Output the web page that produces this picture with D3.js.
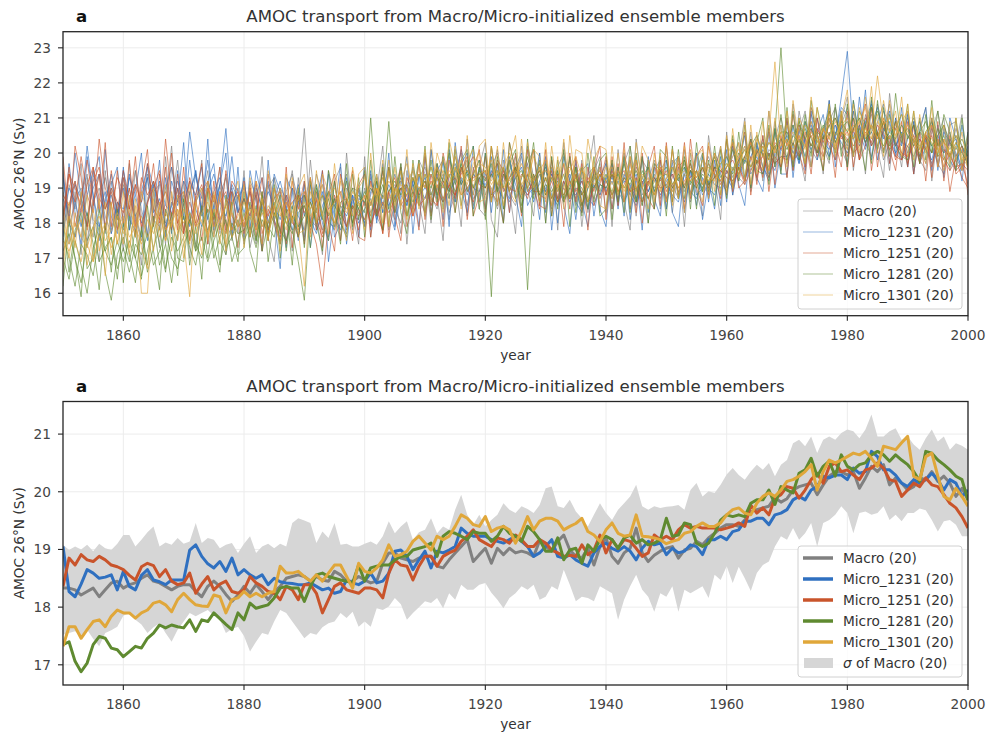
<!DOCTYPE html>
<html>
<head>
<meta charset="utf-8">
<script src="https://cdn.jsdelivr.net/npm/d3@7"></script>
<style>
  body { margin: 0; background: #fff; }
  text { font-family: "DejaVu Sans", sans-serif; }
</style>
</head>
<body>
<svg id="chart" width="989" height="736"></svg>
<script>
// years on the x axis
const years = d3.range(1850, 2001);
const xTicks = [1860, 1880, 1900, 1920, 1940, 1960, 1980, 2000];
const yTicksTop = [16, 17, 18, 19, 20, 21, 22, 23];
const yTicksBottom = [17, 18, 19, 20, 21];

const groupNames = ['Macro (20)', 'Micro_1231 (20)', 'Micro_1251 (20)', 'Micro_1281 (20)', 'Micro_1301 (20)'];
const groupColors = ['#808080', '#2f70c0', '#c9542b', '#5f8a30', '#e0a73a'];

// ensemble means (bottom panel), 1850..2000
const macroMean = [
18.33,18.33,18.30,18.21,18.27,18.33,18.18,18.30,18.42,18.45,
18.33,18.39,18.42,18.50,18.56,18.45,18.42,18.36,18.30,18.36,
18.39,18.39,18.27,18.18,18.36,18.45,18.36,18.22,18.10,18.21,
18.36,18.24,18.39,18.27,18.13,18.27,18.36,18.50,18.53,18.56,
18.53,18.45,18.53,18.47,18.45,18.62,18.56,18.45,18.45,18.53,
18.47,18.42,18.45,18.76,18.94,18.94,18.85,18.82,18.79,18.85,
18.88,18.88,18.71,18.68,18.82,18.94,19.05,19.17,18.79,18.91,
19.02,18.76,19.02,18.91,19.02,18.94,18.97,18.94,18.88,19.15,
19.05,18.97,19.14,19.25,18.99,18.88,18.85,19.02,18.73,19.05,
19.20,18.88,18.76,18.94,19.02,19.37,18.94,18.79,18.90,18.97,
19.02,19.05,18.85,18.99,19.02,19.14,19.08,19.20,19.28,19.37,
19.43,19.43,19.40,19.51,19.66,19.69,19.72,19.75,19.90,19.82,
19.88,20.03,20.09,20.12,20.15,19.95,20.12,20.27,20.35,20.35,
20.29,20.35,20.06,20.24,20.44,20.35,20.47,20.12,20.24,20.15,
20.03,20.09,20.24,20.21,20.35,20.18,20.27,20.15,19.92,20.06,
19.86];

const micro1231Mean = [
19.05,18.27,18.18,18.40,18.65,18.59,18.50,18.52,18.56,18.30,
18.62,18.36,18.30,18.55,18.65,18.47,18.44,18.39,18.47,18.47,
18.47,18.99,19.08,18.88,18.75,18.68,18.79,18.62,18.85,18.56,
18.65,18.56,18.50,18.56,18.39,18.50,18.44,18.42,18.41,18.39,
18.39,18.42,18.36,18.30,18.33,18.24,18.27,18.47,18.42,18.39,
18.45,18.59,18.42,18.45,18.59,18.97,18.99,18.88,18.65,18.82,
18.97,18.68,18.97,18.94,18.99,19.05,19.37,19.28,19.23,19.23,
19.23,19.17,19.14,19.11,19.17,19.23,19.14,19.05,18.88,18.94,
19.05,19.17,18.88,18.85,18.91,18.82,18.76,18.71,18.94,19.05,
19.11,19.02,18.97,19.05,18.97,18.82,19.02,19.14,19.08,19.11,
18.91,19.02,18.94,18.97,19.08,19.05,18.91,19.17,19.17,19.23,
19.17,19.31,19.34,19.49,19.49,19.54,19.54,19.43,19.60,19.63,
19.69,19.86,19.92,19.86,20.03,20.09,20.27,20.24,20.29,20.29,
20.21,20.41,20.32,20.35,20.70,20.61,20.38,20.38,20.29,20.15,
20.09,20.21,20.15,20.21,20.32,20.21,20.03,20.21,20.15,19.92,
20.03];

const micro1251Mean = [
18.36,18.85,18.73,18.91,18.82,18.79,18.88,18.82,18.73,18.70,
18.65,18.55,18.47,18.70,18.76,18.72,18.53,18.65,18.45,18.39,
18.42,18.59,18.24,18.40,18.53,18.30,18.40,18.45,18.27,18.24,
18.30,18.53,18.42,18.36,18.27,18.24,18.13,18.36,18.30,18.13,
18.39,18.39,18.24,17.90,18.13,18.36,18.42,18.30,18.27,18.24,
18.33,18.33,18.30,18.16,18.59,18.82,18.73,18.71,18.47,18.71,
18.88,18.88,18.71,18.88,18.94,18.99,19.14,19.23,19.34,19.17,
19.11,19.05,19.20,19.17,19.11,19.25,19.17,19.05,19.05,19.17,
19.11,18.99,18.94,18.88,18.90,18.88,19.08,18.91,18.99,19.25,
18.94,19.17,19.02,19.17,19.14,19.02,18.88,18.94,19.25,19.17,
19.23,19.17,19.34,19.43,19.37,19.40,19.37,19.37,19.37,19.34,
19.37,19.40,19.46,19.40,19.77,19.63,19.72,19.60,19.89,19.95,
20.09,20.06,19.89,20.03,20.21,20.32,20.15,20.44,20.50,20.35,
20.38,20.29,20.21,20.38,20.41,20.50,20.41,20.21,20.18,19.92,
20.03,20.15,20.09,20.24,20.12,20.09,19.95,19.80,19.72,19.57,
19.37];

const micro1281Mean = [
17.35,17.40,17.06,16.88,17.03,17.35,17.49,17.46,17.29,17.26,
17.14,17.23,17.32,17.29,17.46,17.55,17.69,17.64,17.69,17.66,
17.64,17.78,17.58,17.78,17.75,17.90,17.80,17.70,17.61,17.90,
17.78,18.07,17.98,18.01,18.04,18.16,18.33,18.36,18.33,18.33,
18.10,18.36,18.56,18.59,18.53,18.50,18.47,18.45,18.42,18.73,
18.45,18.68,18.71,18.73,18.73,18.82,18.88,18.88,18.99,19.02,
19.05,19.11,18.88,19.23,19.31,19.28,19.23,19.17,19.31,19.28,
19.28,19.14,19.23,19.40,19.28,19.23,19.14,19.40,19.31,19.17,
18.97,18.97,19.20,18.82,18.99,19.02,18.76,19.08,18.97,19.17,
19.23,19.17,19.02,19.20,19.25,19.11,19.17,19.08,19.11,19.17,
19.54,19.23,19.25,19.46,19.43,19.11,19.05,19.11,19.28,19.51,
19.60,19.57,19.60,19.57,19.80,19.86,19.86,20.03,19.78,20.09,
20.03,19.98,20.32,20.38,20.58,20.27,20.44,20.53,20.27,20.64,
20.44,20.38,20.47,20.50,20.64,20.70,20.64,20.53,20.64,20.55,
20.47,20.35,20.18,20.70,20.67,20.55,20.47,20.38,20.27,20.21,
19.85];

const micro1301Mean = [
17.32,17.66,17.66,17.46,17.61,17.75,17.78,17.66,17.84,17.95,
17.90,17.90,17.81,17.90,17.95,18.07,18.10,18.04,17.92,18.13,
18.24,18.13,18.04,18.02,18.01,18.21,18.18,17.90,18.13,18.16,
18.27,18.18,18.24,18.18,18.24,18.27,18.71,18.59,18.59,18.62,
18.53,18.45,18.56,18.45,18.59,18.73,18.73,18.53,18.33,18.76,
18.62,18.59,18.68,18.82,19.08,18.88,18.91,18.97,19.14,19.23,
19.11,18.99,19.23,19.17,19.23,19.40,19.60,19.54,19.43,19.40,
19.57,19.31,19.37,19.40,19.34,19.11,19.31,19.57,19.34,19.49,
19.54,19.54,19.49,19.34,19.40,19.45,19.54,19.31,19.25,19.14,
19.34,19.46,19.28,19.23,19.25,19.60,19.23,19.22,19.20,19.17,
19.10,19.14,19.17,19.28,19.31,19.40,19.46,19.40,19.40,19.46,
19.60,19.69,19.72,19.63,19.60,19.80,19.92,19.98,19.92,20.03,
20.18,20.21,20.27,20.35,20.47,20.03,20.35,20.55,20.50,20.55,
20.61,20.67,20.64,20.70,20.58,20.44,20.79,20.76,20.73,20.85,
20.96,20.27,20.21,20.61,20.67,20.27,19.92,19.86,20.06,19.92,
19.75];

// shaded sigma band of Macro, upper and lower edge
const sigmaUpper = [
19.08,18.99,19.05,19.00,19.08,18.97,19.10,19.02,18.99,19.10,
19.25,19.25,19.05,19.17,19.30,19.40,19.05,19.12,19.08,19.20,
19.10,19.14,19.46,19.11,19.20,19.17,19.02,19.08,19.11,18.94,
19.10,19.23,18.94,19.05,19.10,19.02,19.10,19.05,19.46,19.54,
19.50,19.46,19.11,19.31,19.20,19.46,19.08,19.10,19.05,19.05,
19.10,19.14,19.08,19.23,19.49,19.28,19.40,19.49,19.17,19.30,
19.34,19.54,19.28,19.40,19.34,19.69,19.95,19.60,19.43,19.60,
19.40,19.51,19.60,19.80,19.69,19.63,19.75,19.70,19.63,19.77,
20.06,20.09,19.75,19.72,19.86,19.66,19.54,19.40,19.60,19.80,
19.63,19.51,19.69,19.80,19.92,20.12,19.75,19.69,19.75,19.72,
19.74,19.75,19.77,19.69,20.03,20.15,19.92,20.01,19.98,20.12,
20.30,20.41,20.29,20.21,20.35,20.47,20.38,20.50,20.27,20.47,
20.55,20.84,20.90,20.79,20.96,20.67,20.90,20.96,20.90,21.02,
21.08,21.05,20.93,21.08,21.34,20.96,20.96,21.05,21.10,20.90,
20.96,20.82,20.73,20.93,21.08,20.87,20.96,20.73,20.84,20.80,
20.73];

const sigmaLower = [
17.52,17.55,17.58,17.50,17.61,17.45,17.32,17.55,17.60,17.66,
17.85,17.90,17.78,17.70,17.55,17.65,17.72,17.55,17.40,17.61,
17.75,17.90,17.84,17.90,17.95,17.85,17.78,17.55,17.62,17.66,
17.50,17.23,17.40,17.55,17.52,17.75,17.95,17.90,17.75,17.61,
17.46,17.55,17.52,17.65,17.72,17.75,17.90,17.81,17.92,17.66,
17.75,17.66,17.98,17.95,18.01,18.16,18.05,17.78,17.90,18.00,
18.10,18.07,18.16,17.98,18.24,18.13,18.39,18.30,18.30,18.39,
18.42,18.25,18.13,17.98,18.16,18.24,18.36,18.30,18.39,18.13,
18.18,18.36,18.30,18.65,18.39,18.10,18.18,18.16,18.10,18.36,
18.30,18.24,17.78,18.13,18.36,18.56,18.30,18.18,17.92,18.24,
18.18,18.36,17.92,18.30,18.24,18.30,18.36,18.16,18.56,18.47,
18.71,18.42,18.70,18.50,18.28,18.59,18.73,18.79,19.05,19.23,
19.17,19.37,19.17,19.28,19.46,19.05,19.46,19.51,19.60,19.75,
19.63,19.28,19.63,19.66,19.60,19.63,19.75,19.51,19.60,19.49,
19.63,19.63,19.71,19.68,19.51,19.31,19.49,19.51,19.43,19.23,
19.23];

// individual members (top panel), 1850..2000
const macroMembers = [
[18.9,18.2,17.6,18.8,19.4,18.1,17.9,18.7,19.2,18.3, 17.8,18.6,19.5,18.4,17.7,18.9,19.1,18.0,18.5,19.8,
 18.2,17.5,18.6,19.0,18.1,17.6,18.8,19.3,18.2,17.9, 18.7,18.0,17.4,18.5,19.1,18.3,17.8,18.9,19.4,18.6,
 20.7,18.1,17.9,18.8,18.4,19.2,18.0,17.7,18.6,19.0, 18.5,19.3,18.2,18.9,19.6,18.4,18.0,19.1,19.5,18.7,
 18.3,19.0,19.7,18.6,18.9,19.9,19.2,18.5,19.4,19.8, 18.8,19.3,20.1,19.0,18.6,19.5,19.9,18.9,19.2,19.7,
 19.1,18.5,19.6,20.0,19.2,18.7,19.3,18.4,19.5,19.9, 18.8,19.4,18.6,19.7,20.2,19.0,18.5,19.2,19.8,19.1,
 18.7,19.5,19.9,18.9,19.3,20.0,19.2,18.8,19.6,20.1, 19.4,19.9,20.3,19.2,19.8,20.5,20.0,19.6,20.4,21.0,
 20.2,19.7,20.6,21.2,20.1,19.8,20.7,21.0,20.3,20.8, 21.3,20.4,19.9,20.8,21.1,20.2,20.6,21.4,20.0,19.8,
 20.5,21.0,20.3,19.7,20.6,21.2,20.1,19.9,20.7,20.2, 19.6],
[17.8,18.5,19.2,18.0,17.5,18.6,19.0,18.2,17.7,18.4, 19.1,18.3,17.6,18.8,19.3,18.1,17.9,18.6,20.2,18.0,
 17.7,18.9,19.4,18.3,17.8,18.5,19.1,18.0,17.6,18.7, 19.0,18.4,18.8,17.9,18.2,19.3,18.6,17.5,18.1,18.9,
 18.3,17.8,18.7,19.1,18.0,17.9,18.8,19.4,18.2,18.1, 19.0,18.3,18.7,19.5,18.6,18.1,19.2,19.0,18.4,19.3,
 19.6,18.8,18.4,19.3,19.1,18.6,19.5,19.8,18.7,18.9, 19.4,18.7,19.0,19.6,18.8,18.5,19.3,19.7,18.9,19.1,
 19.5,19.0,18.6,19.2,19.8,18.9,18.4,19.4,19.6,18.8, 19.3,19.7,18.9,18.6,19.4,19.9,18.8,19.2,19.0,19.5,
 19.8,19.1,18.7,19.4,19.7,19.0,19.5,19.9,19.3,19.2, 19.9,19.3,19.7,20.2,19.5,20.0,20.4,19.8,20.6,20.1,
 19.9,20.5,20.8,20.2,20.0,20.7,20.4,20.9,21.3,20.5, 20.1,20.7,21.0,20.3,19.9,20.6,21.2,20.8,20.2,20.5,
 21.0,20.2,19.8,20.4,20.9,20.3,20.0,20.6,19.9,19.5, 20.1],
[18.4,17.9,18.6,19.0,18.2,17.6,18.8,19.3,18.5,17.8, 18.3,19.0,18.1,17.5,18.7,19.2,18.4,17.8,18.6,18.2,
 18.8,18.3,17.9,18.5,19.2,18.7,17.7,18.2,18.9,18.4, 17.9,18.6,19.1,18.3,17.8,18.5,19.0,18.7,18.2,17.6,
 18.6,19.3,18.4,17.8,18.9,18.5,18.2,19.0,18.7,18.3, 18.1,18.8,19.4,18.5,18.9,19.1,18.6,18.2,19.3,18.8,
 19.2,18.5,19.0,19.4,18.3,18.8,19.6,18.9,19.1,18.6, 19.3,19.0,18.4,19.2,19.5,18.7,19.0,19.4,18.8,19.6,
 18.9,19.4,19.1,18.6,19.3,19.7,18.8,19.2,18.7,19.4, 19.0,18.7,19.5,19.2,18.8,19.6,19.3,18.9,19.4,18.7,
 19.3,18.9,19.4,19.7,18.8,19.2,19.0,19.5,19.9,19.4, 19.0,19.6,19.2,19.8,20.3,19.7,19.4,20.1,19.9,20.4,
 20.6,20.0,19.8,20.4,20.9,20.2,19.9,20.5,20.8,20.1, 20.4,20.0,20.5,20.9,20.2,20.6,19.8,20.3,20.7,20.0,
 19.8,20.4,20.6,20.1,19.7,20.3,20.8,20.2,20.4,20.0, 20.3],
[19.6,17.4,18.9,17.1,19.3,18.0,16.9,19.5,17.8,18.6, 17.2,19.7,18.1,16.8,19.4,18.8,17.3,19.9,18.0,17.5,
 19.2,17.0,18.5,19.8,17.4,18.2,19.6,17.1,18.9,17.7, 19.5,17.3,18.1,19.9,17.6,16.9,19.0,18.4,17.2,19.3,
 17.6,19.8,18.2,17.1,19.5,18.7,17.5,20.0,18.3,17.4, 19.9,17.6,18.9,20.2,17.8,18.5,19.7,17.4,19.3,18.6,
 17.7,20.1,18.8,17.5,19.9,19.2,17.9,20.4,18.5,19.6, 20.3,18.1,17.6,19.8,18.9,17.7,20.2,19.0,18.2,20.0,
 18.0,19.9,17.8,20.3,18.7,19.6,17.9,19.4,20.5,18.3, 19.8,17.9,20.1,18.6,17.8,20.4,19.1,18.0,19.7,18.4,
 20.2,18.3,19.6,17.9,20.0,18.9,18.2,20.5,19.3,18.1, 20.6,18.8,19.9,21.0,18.9,20.3,19.2,21.2,19.6,20.8,
 19.3,21.4,20.0,19.2,21.1,20.6,19.4,21.5,19.8,20.9, 21.6,19.5,20.8,19.4,21.3,20.1,19.3,21.7,20.4,19.6,
 21.2,19.4,20.7,21.3,19.2,20.5,21.0,19.5,20.2,21.1, 19.4],
[17.6,19.1,18.4,19.7,17.3,18.6,19.4,17.7,19.0,18.1, 19.3,17.8,19.5,18.2,17.6,19.2,18.5,17.4,19.6,18.9,
 17.8,18.9,17.3,18.6,19.5,17.7,18.3,19.4,17.5,18.8, 17.6,19.2,18.8,17.4,19.0,19.3,17.7,18.6,19.5,17.9,
 19.1,17.9,19.4,18.8,17.6,19.2,19.6,17.8,19.0,18.9, 17.9,19.4,18.2,17.8,19.6,18.9,17.7,19.5,18.3,19.8,
 19.4,18.0,19.7,19.2,18.1,19.5,20.0,18.2,19.6,18.4, 18.2,19.6,20.0,18.4,19.5,19.9,18.3,19.7,20.1,18.5,
 19.8,18.4,19.5,18.6,19.9,18.5,19.8,18.3,19.2,19.7, 18.3,19.6,18.5,19.9,19.4,18.2,19.8,19.5,18.4,19.9,
 18.4,19.8,18.7,20.1,18.6,19.5,20.0,18.7,19.4,20.2, 19.0,20.4,19.3,19.1,20.6,19.2,20.5,19.4,20.9,19.5,
 20.9,19.5,21.2,20.3,19.6,21.0,20.2,19.7,21.3,20.1, 19.7,21.2,19.8,21.1,20.2,21.4,20.6,19.5,21.0,20.5,
 19.6,20.9,19.8,19.5,21.0,19.7,19.4,20.8,20.9,19.5, 20.4]
];

const micro1231Members = [
[19.3,18.0,17.6,18.4,20.2,18.8,17.9,18.6,19.4,18.2, 19.0,18.1,17.8,18.9,19.6,18.3,18.7,17.9,18.5,19.2,
 18.6,20.6,19.3,18.7,19.8,18.4,19.1,20.7,18.5,19.0, 18.3,18.9,17.9,18.6,19.2,18.1,17.6,18.4,19.0,18.2,
 17.8,18.6,19.1,18.0,17.5,18.7,18.3,17.9,18.8,18.4, 18.0,18.9,19.2,18.3,18.7,19.4,18.8,18.5,19.6,18.9,
 19.3,18.6,19.5,19.8,18.9,19.2,20.1,19.4,18.8,19.6, 19.0,19.5,18.9,19.3,19.8,19.1,18.7,19.4,18.6,19.2,
 19.6,18.8,18.5,19.1,19.4,18.6,18.3,19.0,19.3,19.5, 18.9,19.2,18.7,19.4,18.8,18.5,19.1,19.6,18.9,19.3,
 18.7,19.0,19.3,18.6,19.2,19.5,18.8,19.1,19.6,19.2, 18.9,19.5,19.8,19.2,19.9,20.3,19.6,19.3,20.0,20.4,
 19.8,20.2,19.7,20.5,20.8,20.0,20.6,21.0,20.4,21.6, 22.9,20.6,20.2,20.9,21.4,20.5,20.0,20.7,20.3,19.8,
 20.4,20.8,19.9,20.5,20.2,19.7,20.6,20.3,19.8,20.1, 19.9],
[18.2,19.0,18.6,17.9,18.8,19.5,18.3,18.9,17.7,18.6, 18.4,19.3,18.8,18.0,18.6,19.1,18.2,19.0,19.6,18.5,
 19.2,18.8,19.5,18.3,18.9,19.4,18.6,18.2,19.1,18.7, 19.1,18.4,18.8,19.3,18.0,18.7,19.2,18.5,17.8,18.6,
 18.8,18.1,17.7,18.5,18.9,18.2,17.8,18.6,18.0,18.7, 18.6,18.2,18.9,18.5,19.1,18.7,19.3,18.9,18.4,19.0,
 18.7,19.4,19.0,18.6,19.3,19.7,19.1,19.5,19.0,18.9, 19.5,18.8,19.4,19.0,18.7,19.3,19.6,18.9,19.2,18.8,
 19.0,19.4,18.7,19.2,18.6,19.0,18.9,18.4,19.1,18.8, 19.3,18.8,19.2,18.6,19.0,19.4,18.7,18.9,19.3,19.0,
 19.1,18.8,18.6,19.4,18.9,18.7,19.3,19.0,18.8,19.5, 19.3,19.0,19.6,19.9,19.4,19.7,20.1,19.8,19.5,20.2,
 20.5,20.0,20.4,19.9,20.6,21.0,20.3,20.1,20.8,20.5, 20.2,21.2,20.6,20.1,20.8,21.3,20.4,20.9,20.2,20.6,
 20.0,20.5,20.9,20.3,20.7,20.1,19.8,20.4,20.0,19.6, 20.2],
[18.7,18.3,19.1,18.7,18.2,19.0,19.4,18.4,18.8,18.1, 19.5,18.7,18.2,18.6,19.3,18.0,19.2,18.5,18.3,19.0,
 18.5,19.2,18.8,19.6,18.1,18.9,19.3,18.6,19.0,18.3, 18.7,18.2,19.0,18.4,18.9,18.5,18.1,18.8,18.4,19.1,
 18.2,18.7,18.3,18.9,18.1,17.8,18.5,18.2,18.7,18.0, 18.4,18.7,18.1,18.8,18.5,19.0,19.2,18.6,19.1,18.8,
 19.0,18.8,19.3,19.1,18.7,19.5,19.3,18.8,19.4,19.2, 19.1,19.4,19.0,18.7,19.3,19.5,19.1,18.8,19.0,19.4,
 18.9,19.3,19.0,18.6,19.0,18.8,19.2,18.7,18.5,19.1, 19.0,19.3,18.9,19.2,19.1,18.7,19.2,18.9,19.3,18.8,
 19.2,19.4,18.9,19.1,19.5,18.8,19.0,19.4,19.1,19.0, 19.5,19.2,19.4,19.8,19.6,19.9,19.4,20.0,19.7,19.9,
 19.9,20.3,19.8,20.4,20.1,20.5,20.2,19.9,20.6,20.3, 20.0,20.5,20.8,20.3,20.6,20.1,20.7,20.4,20.0,20.3,
 20.2,19.9,20.4,20.1,19.8,20.5,20.0,20.3,19.9,20.2, 19.8],
[17.6,19.7,18.3,17.4,19.9,18.8,17.5,20.1,18.2,17.7, 19.6,17.8,18.9,20.0,17.5,18.4,19.8,17.6,19.2,18.6,
 20.3,17.9,19.5,18.2,20.4,17.8,19.1,20.0,17.7,19.6, 17.4,19.5,18.6,17.2,19.8,18.1,16.7,19.3,18.9,17.5,
 19.2,17.3,18.6,19.5,16.9,18.3,19.7,17.4,18.8,17.6, 19.6,17.8,19.2,18.3,20.0,17.9,18.8,19.9,17.7,19.4,
 18.2,20.1,18.7,19.8,17.9,20.3,19.0,18.3,20.2,18.6, 20.0,18.3,19.7,18.0,19.9,18.8,17.9,20.2,19.3,18.1,
 19.9,17.8,19.4,18.5,17.7,19.8,18.6,17.9,19.6,18.4, 17.9,19.7,18.4,20.0,18.1,19.3,17.8,19.9,18.7,18.2,
 19.8,18.3,17.9,19.6,18.8,20.0,18.1,19.2,18.4,19.9, 18.6,20.2,19.1,18.5,20.4,19.3,18.9,20.6,19.0,20.1,
 21.0,19.3,20.7,19.5,21.2,19.8,20.4,21.5,19.6,20.8, 19.6,21.5,20.3,21.8,19.8,20.9,21.4,19.7,21.0,20.2,
 21.1,19.4,20.6,21.3,19.5,20.8,19.3,21.0,20.4,19.2, 20.6],
[19.4,18.1,20.0,18.7,17.9,19.3,19.9,17.8,19.1,19.6, 17.9,19.4,18.2,17.6,19.7,19.0,17.8,19.3,17.7,19.5,
 18.1,19.8,18.4,17.9,19.2,19.7,18.0,18.5,19.9,18.3, 19.3,17.8,19.5,18.7,17.6,19.4,18.9,17.3,19.0,18.6,
 17.5,19.1,17.8,18.2,19.4,17.6,18.0,19.3,17.8,19.0, 17.9,19.5,18.0,19.7,18.4,17.8,19.6,18.5,19.2,17.9,
 19.9,18.3,19.4,18.1,20.1,18.6,19.7,20.0,18.4,19.3, 18.4,19.9,18.5,20.1,18.3,19.6,20.0,18.5,18.9,20.0,
 18.3,19.6,18.0,19.9,19.2,18.1,19.5,19.7,18.2,19.3, 19.7,18.4,19.6,18.2,19.8,18.6,19.9,18.3,19.5,19.8,
 18.4,19.7,19.9,18.3,19.5,18.5,19.9,18.6,19.8,18.5, 20.1,18.8,19.7,20.5,19.0,20.2,19.6,19.2,20.7,19.4,
 19.4,20.8,19.7,20.9,19.6,20.6,21.1,19.9,20.5,21.3, 21.1,19.9,21.6,20.2,21.5,19.8,20.6,21.2,19.9,21.3,
 19.6,20.9,19.7,20.2,21.0,19.5,20.7,19.8,19.5,20.8, 19.7]
];

const micro1251Members = [
[18.0,19.4,18.6,19.9,18.8,18.3,20.4,19.0,18.5,19.3, 18.9,18.2,19.1,18.6,19.7,18.4,18.1,20.4,18.7,18.0,
 18.5,19.2,17.9,18.4,19.0,18.1,18.6,18.9,17.8,18.3, 18.7,18.2,19.2,17.7,18.4,18.0,17.4,18.6,18.1,17.6,
 18.5,18.0,17.4,16.2,18.0,18.8,18.3,17.9,18.5,18.2, 18.6,18.0,18.4,17.8,18.9,19.3,18.5,18.8,18.2,18.9,
 19.1,18.7,18.5,19.2,19.0,18.8,19.4,19.6,19.9,19.1, 19.0,19.4,19.7,18.9,19.3,19.6,19.0,18.8,19.2,19.5,
 18.8,19.2,18.6,19.0,18.7,19.4,18.8,19.1,19.6,18.7, 19.2,18.8,19.3,19.5,18.9,19.0,18.6,19.1,19.6,19.2,
 19.5,19.0,19.6,19.8,19.3,19.5,19.1,19.7,19.4,19.2, 19.6,19.8,19.4,19.9,20.3,19.7,19.9,19.5,20.3,20.1,
 20.4,19.8,20.0,20.6,20.2,20.7,20.3,20.8,21.0,20.4, 20.6,20.2,20.5,21.0,20.7,20.4,20.9,20.3,19.9,19.8,
 20.2,20.5,19.9,20.3,20.0,20.4,19.8,19.5,19.8,19.3, 19.0],
[18.8,18.5,19.2,18.3,19.1,19.6,18.7,18.4,19.0,18.6, 18.3,19.0,17.9,19.3,18.8,19.2,18.5,18.9,18.2,18.7,
 18.9,18.0,18.7,19.1,18.3,18.8,18.1,18.5,18.9,17.9, 18.1,18.9,17.8,18.6,18.2,18.7,18.9,18.3,18.6,18.8,
 18.3,18.6,18.1,17.6,18.3,18.0,18.6,18.7,18.0,18.4, 18.1,18.6,18.2,18.6,18.3,18.7,19.0,18.6,18.9,18.5,
 18.7,19.2,18.9,18.6,19.1,19.3,18.8,19.0,19.3,19.4, 19.3,18.8,19.0,19.5,19.0,18.9,19.4,19.2,18.9,18.9,
 19.3,18.7,19.1,18.8,19.2,18.9,19.2,18.6,19.0,19.4, 18.8,19.4,18.9,19.1,19.4,19.0,19.2,18.7,19.3,19.0,
 19.1,19.4,19.0,19.2,19.5,19.3,19.6,19.1,19.3,19.5, 19.3,19.2,19.6,19.1,19.5,19.8,19.5,20.0,19.7,19.9,
 19.8,20.3,19.9,20.2,20.5,19.9,20.5,20.3,20.1,20.6, 20.4,20.0,20.2,20.6,20.3,20.8,20.5,20.1,20.3,20.0,
 19.9,20.2,20.4,20.1,20.5,19.9,20.1,19.9,19.6,19.7, 19.5],
[18.1,19.4,19.0,18.5,17.9,19.2,19.6,18.4,18.9,17.8, 19.3,18.4,19.1,17.9,18.6,19.0,19.5,17.8,18.2,19.0,
 17.7,18.6,18.0,18.9,19.2,17.9,18.9,17.7,18.6,18.9, 17.9,19.0,18.2,19.3,17.8,18.5,17.7,18.8,18.0,17.8,
 18.9,18.0,18.7,17.7,18.4,18.6,18.9,17.9,18.5,17.8, 18.8,17.9,18.6,17.7,18.9,18.3,19.0,19.1,18.2,18.9,
 19.2,18.5,19.1,18.7,19.1,18.8,19.6,19.0,18.6,19.3, 19.5,18.9,18.6,19.4,18.9,19.6,19.0,18.7,19.4,18.8,
 18.7,19.5,18.6,19.2,18.7,19.4,18.5,19.3,18.9,19.6, 18.8,19.5,18.9,19.3,18.9,19.3,18.6,19.2,18.8,19.6,
 18.9,19.3,19.7,19.0,19.7,19.1,19.6,19.0,19.6,19.1, 19.5,19.1,19.6,19.2,19.9,19.3,20.0,19.3,19.9,19.6,
 20.3,19.8,20.5,19.6,20.7,20.0,20.7,20.2,19.8,20.6, 19.9,20.7,19.8,20.8,20.2,20.6,20.1,20.5,19.8,20.5,
 19.7,20.4,19.7,20.5,19.6,20.3,19.6,20.0,19.5,19.7, 19.1],
[19.9,18.0,20.2,19.3,17.8,19.6,18.4,20.3,17.9,19.5, 18.0,19.8,17.6,19.1,20.1,17.9,19.4,18.2,20.0,17.8,
 19.6,17.5,18.8,19.7,17.4,19.2,17.8,19.5,18.3,17.3, 19.2,17.6,18.9,17.2,19.4,18.1,17.5,19.6,17.3,18.8,
 17.4,19.3,17.8,19.5,18.0,17.2,19.4,18.6,17.5,19.1, 19.4,17.6,19.0,17.7,19.6,18.2,17.5,19.3,18.9,17.8,
 20.0,18.2,19.6,17.9,19.8,18.7,20.2,18.1,19.5,20.1, 18.3,20.2,18.9,18.0,20.3,19.4,18.2,20.1,19.0,18.4,
 20.1,18.2,19.4,17.9,20.0,18.6,19.7,17.8,19.5,20.2, 18.1,19.9,18.5,20.3,18.4,19.8,18.0,19.6,20.2,18.5,
 20.3,18.6,19.9,18.4,20.4,19.0,18.5,20.2,19.4,18.7, 20.4,18.9,19.8,20.6,18.8,20.1,19.3,20.7,19.1,20.5,
 19.3,21.1,20.0,19.4,21.3,20.6,19.5,21.2,20.3,19.6, 21.2,19.6,20.8,21.4,19.5,20.6,21.0,19.7,20.9,19.8,
 20.9,19.4,20.6,19.2,20.8,19.6,20.4,18.9,19.9,20.2, 18.8],
[18.2,19.6,17.9,18.7,19.8,18.5,19.4,17.8,19.5,18.3, 19.5,18.4,19.9,17.8,18.5,19.7,18.0,19.6,17.8,19.4,
 17.7,19.3,18.7,17.5,19.0,18.6,19.6,17.8,19.2,18.9, 17.7,19.1,17.6,18.9,17.5,19.0,18.5,17.4,19.2,18.4,
 19.2,17.7,18.9,17.3,18.8,19.4,17.5,18.7,19.5,17.6, 17.5,19.2,18.3,19.5,17.6,19.0,19.6,17.9,18.5,19.7,
 18.1,19.4,18.5,20.0,19.2,18.3,19.5,19.9,18.2,18.8, 19.9,18.6,19.8,19.5,18.3,20.0,18.8,19.4,20.1,18.5,
 18.4,19.8,18.7,19.7,18.4,19.9,18.3,19.6,18.5,19.1, 19.9,18.4,19.7,18.6,19.9,18.3,20.0,18.7,18.4,19.8,
 18.6,20.1,18.8,20.3,18.7,19.9,20.2,18.8,20.0,19.6, 18.8,20.3,19.0,19.2,20.4,19.1,20.5,18.9,20.2,19.6,
 21.0,19.5,20.8,20.4,19.4,21.0,19.9,20.6,19.3,21.1, 19.5,21.0,19.8,20.2,21.3,19.6,20.9,20.1,19.5,20.9,
 19.6,20.8,19.7,20.6,19.3,20.9,19.2,20.5,19.4,19.6, 20.0]
];

const micro1281Members = [
[17.0,16.4,17.5,16.8,16.0,17.3,17.9,16.6,15.8,17.1, 17.6,16.9,17.8,16.5,17.2,18.0,16.8,17.4,16.3,17.7,
 18.2,17.3,16.8,17.9,18.4,17.0,17.6,18.1,16.9,17.5, 18.3,17.6,18.5,17.2,18.0,18.6,17.4,18.2,17.8,16.9,
 15.8,18.4,19.0,18.1,18.7,17.9,18.5,19.2,18.0,18.6, 18.3,21.0,18.6,19.1,18.4,18.9,19.5,18.2,18.8,19.4,
 19.0,19.6,18.8,19.3,20.0,19.1,19.7,18.9,19.4,19.8, 18.6,15.9,19.5,19.0,19.8,18.7,19.3,19.9,19.1,18.8,
 19.3,18.7,19.5,18.6,19.1,19.6,18.5,19.0,19.4,18.9, 19.4,18.8,19.2,19.7,19.0,18.6,19.3,19.6,18.9,19.5,
 19.0,19.6,19.2,19.8,19.1,19.5,18.9,19.4,19.9,19.3, 19.6,20.1,19.5,19.9,20.4,19.7,20.2,19.8,20.6,23.0,
 20.3,20.8,20.1,20.9,20.4,20.0,20.7,21.2,20.5,20.9, 20.6,21.0,20.3,20.8,21.3,20.5,20.9,20.2,20.7,21.1,
 20.4,20.8,20.1,20.6,20.9,20.2,20.5,19.9,20.3,20.0, 19.7],
[17.6,17.0,16.2,17.4,17.1,16.5,17.7,17.2,16.8,17.5, 16.9,17.5,17.0,17.8,16.6,17.3,17.9,16.7,17.6,17.2,
 17.6,18.1,17.4,17.0,17.8,18.3,17.5,17.1,18.0,17.7, 17.8,18.2,17.5,18.4,17.9,17.6,18.5,18.0,17.7,18.3,
 18.5,17.9,18.4,18.8,18.2,18.7,18.1,18.6,19.0,18.4, 18.9,18.5,19.2,18.7,20.9,18.6,19.0,18.8,19.3,18.7,
 19.4,19.0,19.5,19.2,18.9,19.6,19.1,19.4,19.0,19.5, 19.2,19.7,18.9,19.4,19.1,19.6,19.0,16.1,19.3,19.5,
 18.8,19.3,18.9,19.4,18.7,19.2,19.0,18.6,19.3,19.1, 19.0,19.4,18.8,19.3,19.1,19.5,19.0,18.7,19.2,19.4,
 19.6,19.1,19.4,19.0,19.5,19.2,19.6,19.1,19.3,19.7, 19.9,19.5,20.0,19.7,20.2,20.5,19.9,20.3,20.1,20.6,
 20.6,20.2,20.9,20.4,20.7,20.3,20.8,20.5,21.0,20.6, 20.3,20.7,21.0,20.4,20.6,21.2,20.7,20.4,20.9,20.5,
 20.7,20.3,20.6,20.9,20.2,20.5,20.8,20.3,20.1,20.4, 20.0],
[17.2,17.7,17.0,16.3,17.5,17.9,16.9,17.3,17.6,16.7, 17.3,16.6,17.4,17.1,17.7,16.8,17.2,17.8,17.0,16.7,
 17.4,17.8,17.2,17.6,16.9,17.5,18.0,17.3,17.6,18.1, 17.5,17.9,17.3,18.1,17.7,18.3,17.8,17.5,18.2,17.9,
 18.2,18.6,18.0,18.3,18.9,18.5,18.2,18.7,18.4,18.8, 18.6,19.0,18.7,19.3,18.9,19.2,18.8,19.1,18.6,19.0,
 19.2,18.8,19.3,19.0,19.4,18.9,19.2,19.5,19.0,19.3, 19.0,19.4,19.1,19.6,18.9,19.3,19.5,19.0,19.4,18.8,
 19.1,18.9,19.2,18.7,19.0,19.3,18.8,19.2,19.0,19.4, 19.2,18.9,19.4,19.0,19.3,18.9,19.5,19.1,18.8,19.3,
 19.4,19.0,19.3,19.6,19.2,19.0,19.4,19.2,19.6,19.5, 19.7,19.4,19.8,20.1,19.6,20.0,20.3,19.9,20.2,20.4,
 20.1,20.5,20.3,20.7,20.2,20.6,20.4,20.8,20.3,20.7, 20.9,20.4,20.7,20.3,20.8,20.5,20.2,20.6,20.4,20.8,
 20.5,20.2,20.6,20.4,20.0,20.7,20.3,20.1,20.5,20.2, 19.9],
[16.2,18.1,17.0,15.9,18.3,17.4,16.1,18.0,16.6,18.4, 16.3,18.2,17.0,16.4,18.5,17.2,16.1,18.4,17.8,16.5,
 18.7,16.8,17.9,16.4,18.9,17.3,16.6,18.8,17.6,16.9, 18.9,17.2,16.6,18.8,17.5,19.1,17.0,18.4,16.8,19.0,
 17.3,19.2,18.0,17.2,19.5,18.4,17.4,19.7,17.9,19.3, 17.6,19.8,18.2,19.6,17.9,19.9,18.3,17.7,19.8,18.5,
 20.2,18.1,19.7,18.4,20.3,18.3,19.8,20.1,18.2,19.6, 18.1,20.2,19.0,18.0,20.3,19.5,18.3,20.4,18.7,19.8,
 18.0,19.9,18.4,20.1,17.9,19.6,18.2,20.0,18.6,19.8, 20.0,18.1,19.6,18.3,20.2,18.6,19.9,18.0,19.7,19.5,
 18.2,20.2,18.7,19.9,18.4,20.3,18.9,19.8,18.5,20.1, 18.7,20.5,19.2,20.8,19.0,20.3,21.0,19.1,20.7,19.4,
 21.3,19.6,21.0,19.7,21.5,20.2,19.5,21.4,20.0,21.2, 19.6,21.5,20.4,19.5,21.6,20.1,21.3,19.9,21.7,20.3,
 21.4,19.6,21.0,19.8,21.5,19.9,21.1,20.6,19.5,21.0, 19.6],
[18.1,16.6,17.8,18.3,16.7,17.0,18.4,17.2,17.6,16.4, 18.0,17.1,16.3,17.9,16.8,18.2,17.4,16.6,18.3,17.0,
 16.9,18.3,17.2,18.5,17.0,18.4,16.8,17.7,18.6,17.1, 17.3,18.6,17.5,18.9,16.9,18.2,18.8,17.2,18.5,17.6,
 18.8,17.3,19.1,18.2,17.5,19.2,18.0,17.6,19.4,18.1, 19.5,18.0,19.3,17.8,19.6,18.3,19.7,18.2,18.9,19.8,
 18.3,19.8,18.6,19.9,18.7,20.1,18.5,19.6,20.2,18.4, 20.0,18.6,19.9,18.4,19.7,20.1,18.5,19.2,20.3,18.6,
 19.7,18.2,19.8,18.7,19.9,18.3,19.6,18.4,19.9,18.2, 18.4,19.8,18.6,19.9,18.3,20.0,18.5,19.8,18.4,20.1,
 19.9,18.6,20.1,18.7,19.8,18.4,20.0,18.9,20.2,18.8, 20.4,19.0,20.6,19.3,20.2,19.5,19.4,20.8,19.6,21.1,
 19.7,21.2,19.8,21.1,19.9,21.3,20.5,19.8,21.4,19.9, 21.4,19.9,21.2,20.8,19.7,21.5,20.0,21.1,20.2,19.9,
 19.8,21.2,19.7,21.1,20.0,21.2,19.9,19.6,21.0,19.7, 20.6]
];

const micro1301Members = [
[17.0,18.2,17.5,16.9,17.8,18.4,17.2,17.9,18.6,17.4, 18.1,17.3,18.5,16.0,16.0,18.7,17.6,18.3,17.9,18.8,
 17.5,15.9,18.6,18.0,17.7,18.9,18.2,17.4,18.5,18.8, 17.9,18.5,18.0,18.7,17.6,18.4,19.0,18.2,18.6,17.8,
 16.2,18.9,18.3,19.1,18.5,18.0,19.2,18.7,18.2,19.0, 19.3,18.6,19.0,18.4,19.5,18.8,19.2,19.7,18.9,19.4,
 19.0,19.6,19.2,19.8,19.3,19.9,19.5,19.1,19.7,20.0, 19.4,19.8,19.1,19.6,20.0,19.3,19.7,19.2,19.9,19.5,
 19.8,19.2,19.6,19.0,19.5,19.9,19.3,19.1,19.6,19.2, 19.6,19.1,19.5,18.9,19.4,19.8,19.0,19.3,18.8,19.4,
 19.2,18.9,19.5,19.1,19.6,19.3,19.8,19.2,19.5,19.7, 19.9,20.3,19.7,20.1,19.6,20.4,20.0,20.5,22.6,20.2,
 20.8,20.3,20.7,20.1,20.9,20.4,20.6,21.1,20.5,20.8, 21.0,20.6,20.9,21.3,20.7,22.2,20.8,21.0,20.5,20.9,
 21.2,20.3,20.0,20.6,20.8,20.1,19.8,20.2,20.5,19.9, 19.6],
[17.9,17.4,18.0,17.6,17.3,17.9,18.2,17.5,17.8,18.3, 17.7,18.4,17.9,18.2,17.6,18.0,18.5,17.8,18.1,17.5,
 18.4,18.0,17.7,18.3,18.6,17.9,18.1,18.5,17.8,18.2, 18.6,18.1,18.4,17.9,18.5,18.2,18.6,18.0,18.3,18.7,
 18.9,18.4,18.7,18.2,18.8,19.0,18.5,18.3,18.9,18.6, 18.7,19.1,18.8,19.3,18.7,19.0,18.6,19.2,19.5,18.9,
 19.4,19.1,19.6,19.0,19.5,19.3,19.8,19.2,19.4,19.7, 19.6,19.2,19.5,19.0,19.3,19.7,19.1,19.4,19.2,19.6,
 19.2,19.6,19.3,19.7,19.1,19.4,19.6,19.0,19.3,19.5, 19.3,19.6,19.1,19.4,19.7,19.0,19.3,19.5,19.2,18.9,
 19.3,19.6,19.0,19.4,19.2,19.5,19.1,19.6,19.4,19.2, 19.6,19.9,20.1,19.8,20.3,19.9,20.2,19.8,20.4,20.6,
 20.2,20.6,20.3,20.8,20.5,20.1,20.7,20.4,20.9,20.5, 20.7,20.4,20.9,20.5,20.8,20.4,21.0,20.6,20.8,21.1,
 20.6,20.4,20.1,20.5,20.3,20.0,20.4,19.9,20.2,19.8, 19.9],
[17.5,17.2,17.7,18.1,17.4,16.9,17.6,18.0,17.3,17.8, 18.2,17.6,17.9,17.4,18.1,17.7,18.3,17.5,18.0,18.4,
 18.0,18.3,17.9,18.1,17.6,18.4,18.0,17.7,18.3,17.9, 18.1,18.4,17.8,18.3,18.0,18.5,18.2,18.6,18.1,18.4,
 18.6,18.2,18.5,18.8,18.3,18.6,18.9,18.4,18.7,18.5, 18.8,18.5,19.0,18.7,19.2,18.9,19.1,18.8,19.3,19.0,
 19.2,19.4,19.0,19.5,19.1,19.6,19.3,19.5,19.2,19.4, 19.5,19.1,19.4,19.6,19.2,19.5,19.3,19.6,19.0,19.4,
 19.5,19.3,19.0,19.4,19.6,19.2,19.5,19.3,19.1,19.4, 19.2,19.4,19.3,19.0,19.5,19.2,19.4,19.1,19.3,19.6,
 19.4,19.1,19.3,19.5,19.2,19.4,19.6,19.3,19.2,19.5, 19.7,19.5,19.9,20.2,19.8,20.1,19.9,20.3,20.0,20.2,
 20.4,20.1,20.5,20.2,20.6,20.3,20.7,20.4,20.2,20.6, 20.5,20.8,20.3,20.7,20.4,20.9,20.6,20.4,20.7,20.5,
 20.8,20.5,20.2,20.6,20.4,20.1,20.3,20.0,20.3,20.1, 19.8],
[16.6,18.6,17.3,18.9,16.8,17.8,18.7,16.5,18.5,17.4, 18.9,17.1,18.7,17.3,16.7,19.0,17.8,19.1,17.2,18.4,
 17.0,19.1,18.2,17.1,19.2,17.6,18.9,17.2,18.6,19.2, 17.3,19.3,18.0,17.4,19.5,18.6,17.2,19.4,18.0,19.0,
 19.4,17.6,19.5,18.2,17.7,19.7,18.3,17.5,19.6,18.6, 17.8,20.0,18.6,19.8,17.9,19.6,18.4,20.1,18.3,19.7,
 18.2,20.3,19.0,18.3,20.4,19.6,18.4,20.5,18.8,20.2, 20.4,18.6,20.2,18.5,19.8,20.5,18.7,20.3,19.2,18.6,
 20.3,18.5,19.9,18.4,20.5,19.0,18.6,20.4,19.5,18.5, 18.4,20.2,18.8,20.1,18.5,20.3,19.0,18.4,20.0,18.9,
 20.2,18.5,19.9,18.3,20.1,19.1,18.6,20.3,18.9,20.2, 18.9,20.7,19.3,20.9,19.1,20.6,19.5,21.2,20.0,20.8,
 19.6,21.5,20.3,19.7,21.6,20.5,19.8,21.4,20.1,21.0, 21.8,19.9,21.3,20.4,21.9,20.0,21.5,20.6,21.2,19.9,
 21.4,19.8,21.1,20.0,21.3,19.6,20.8,19.7,21.0,19.5, 20.5],
[18.5,17.0,18.3,17.6,18.8,16.9,17.7,18.6,17.1,18.2, 17.4,18.8,17.6,18.9,18.3,17.2,18.6,17.5,18.9,17.7,
 18.9,17.4,18.6,19.0,17.5,18.8,17.4,18.7,17.6,17.9, 19.1,17.6,19.2,18.7,17.5,19.0,18.3,17.8,19.3,17.7,
 17.8,19.3,18.0,19.4,18.9,17.8,19.3,18.9,17.7,19.4, 19.6,18.2,19.4,18.0,19.8,18.5,19.5,18.1,19.7,18.4,
 20.1,18.6,20.0,19.4,18.5,20.2,18.8,19.8,20.1,18.6, 18.7,20.2,18.5,20.3,18.9,18.6,20.4,18.9,20.1,19.9,
 18.6,20.2,18.9,20.4,18.7,20.1,20.0,18.6,19.8,20.2, 20.1,18.7,20.0,18.6,19.9,18.8,20.2,19.8,18.6,20.0,
 18.6,20.1,18.7,20.2,18.8,19.9,20.1,18.7,20.0,18.8, 20.5,19.0,20.3,19.2,20.8,19.4,20.9,19.5,21.0,19.7,
 21.2,19.8,21.0,20.6,19.6,21.3,20.1,21.0,19.9,21.2, 20.1,21.4,20.0,21.6,20.4,21.1,19.9,21.5,20.3,21.6,
 19.9,21.2,20.1,19.7,21.0,20.4,19.5,20.9,19.8,20.6, 19.5]
];

const groupMeans = [macroMean, micro1231Mean, micro1251Mean, micro1281Mean, micro1301Mean];
const groupMembers = [macroMembers, micro1231Members, micro1251Members, micro1281Members, micro1301Members];

const svg = d3.select('#chart');
const textColor = '#333333';
const labelSize = '13.7px';
const titleSize = '16.6px';

const x = d3.scaleLinear().domain([1850, 2000]).range([63, 968]);

// grid lines go under the data
let drawGrid = (panel, yTicks) => {
    const g = panel.g, y = panel.y;
    g.append('g').selectAll('line')
        .data(xTicks).enter().append('line')
        .attr('x1', d => x(d)).attr('x2', d => x(d))
        .attr('y1', panel.top).attr('y2', panel.bottom)
        .attr('stroke', '#ececec').attr('stroke-width', 1);
    g.append('g').selectAll('line')
        .data(yTicks).enter().append('line')
        .attr('x1', 63).attr('x2', 968)
        .attr('y1', d => y(d)).attr('y2', d => y(d))
        .attr('stroke', '#ececec').attr('stroke-width', 1);
};

// spines, ticks, labels and title on top
let drawAxes = (panel, yTicks) => {
    const g = panel.g, y = panel.y;
    const top = panel.top, bottom = panel.bottom;

    g.append('rect')
        .attr('x', 63).attr('y', top)
        .attr('width', 968 - 63).attr('height', bottom - top)
        .attr('fill', 'none').attr('stroke', '#262626').attr('stroke-width', 1.3);

    g.append('g').selectAll('line').data(xTicks).enter().append('line')
        .attr('x1', d => x(d)).attr('x2', d => x(d))
        .attr('y1', bottom).attr('y2', bottom + 5)
        .attr('stroke', '#262626').attr('stroke-width', 1.1);
    g.append('g').selectAll('text').data(xTicks).enter().append('text')
        .attr('x', d => x(d)).attr('y', bottom + 24)
        .attr('text-anchor', 'middle')
        .style('font-size', labelSize).attr('fill', '#444')
        .text(d => d);

    g.append('g').selectAll('line').data(yTicks).enter().append('line')
        .attr('x1', 58).attr('x2', 63)
        .attr('y1', d => y(d)).attr('y2', d => y(d))
        .attr('stroke', '#262626').attr('stroke-width', 1.1);
    g.append('g').selectAll('text').data(yTicks).enter().append('text')
        .attr('x', 51).attr('y', d => y(d) + 5)
        .attr('text-anchor', 'end')
        .style('font-size', labelSize).attr('fill', '#444')
        .text(d => d);

    g.append('text')
        .attr('transform', `translate(24,${(top + bottom) / 2}) rotate(-90)`)
        .attr('text-anchor', 'middle')
        .style('font-size', labelSize).attr('fill', textColor)
        .text('AMOC 26°N (Sv)');

    g.append('text')
        .attr('x', (63 + 968) / 2).attr('y', bottom + 44)
        .attr('text-anchor', 'middle')
        .style('font-size', labelSize).attr('fill', textColor)
        .text('year');

    g.append('text')
        .attr('x', (63 + 968) / 2).attr('y', top - 10)
        .attr('text-anchor', 'middle')
        .style('font-size', titleSize).attr('fill', textColor)
        .text('AMOC transport from Macro/Micro-initialized ensemble members');

    g.append('text')
        .attr('x', 76).attr('y', top - 10)
        .style('font-size', titleSize).style('font-weight', 'bold').attr('fill', '#111')
        .text('a');
};

let makePanel = (id, top, bottom, domain) => {
    const g = svg.append('g');
    svg.append('clipPath').attr('id', id)
        .append('rect').attr('x', 63).attr('y', top)
        .attr('width', 968 - 63).attr('height', bottom - top);
    const y = d3.scaleLinear().domain(domain).range([bottom, top]);
    return {g, y, top, bottom, clip: `url(#${id})`};
};

// ---------- top panel: individual members ----------
const topPanel = makePanel('clipTop', 31.7, 315.7, [15.36, 23.46]);
drawGrid(topPanel, yTicksTop);

const lineTop = d3.line()
    .x((d, i) => x(years[i]))
    .y(d => topPanel.y(d));

groupMembers.forEach((members, gi) => {
    topPanel.g.append('g').attr('clip-path', topPanel.clip)
        .selectAll('path')
        .data(members)
        .enter()
        .append('path')
        .attr('d', lineTop)
        .attr('fill', 'none')
        .attr('stroke', groupColors[gi])
        .attr('stroke-width', 1)
        .attr('stroke-opacity', 0.62);
});
drawAxes(topPanel, yTicksTop);

// ---------- bottom panel: means and sigma band ----------
const botPanel = makePanel('clipBot', 401.5, 685, [16.65, 21.565]);
drawGrid(botPanel, yTicksBottom);

const band = d3.area()
    .x((d, i) => x(years[i]))
    .y0((d, i) => botPanel.y(sigmaLower[i]))
    .y1(d => botPanel.y(d));

botPanel.g.append('path')
    .attr('clip-path', botPanel.clip)
    .attr('d', band(sigmaUpper))
    .attr('fill', '#d6d6d6');

const lineBot = d3.line()
    .x((d, i) => x(years[i]))
    .y(d => botPanel.y(d));

botPanel.g.append('g').attr('clip-path', botPanel.clip)
    .selectAll('path')
    .data(groupMeans)
    .enter()
    .append('path')
    .attr('d', lineBot)
    .attr('fill', 'none')
    .attr('stroke', (d, i) => groupColors[i])
    .attr('stroke-width', 3)
    .attr('stroke-linejoin', 'round');
drawAxes(botPanel, yTicksBottom);

// ---------- legends ----------
let drawLegend = (left, top, rows, thick, withBand) => {
    const rowH = 21;
    const n = rows.length + (withBand ? 1 : 0);
    const lg = svg.append('g');
    lg.append('rect')
        .attr('x', left).attr('y', top)
        .attr('width', 164).attr('height', n * rowH + 5)
        .attr('rx', 3)
        .attr('fill', '#fff').attr('fill-opacity', 0.8)
        .attr('stroke', '#d0d0d0');

    rows.forEach((name, i) => {
        const cy = top + 12 + i * rowH;
        lg.append('line')
            .attr('x1', left + 5).attr('x2', left + 35)
            .attr('y1', cy).attr('y2', cy)
            .attr('stroke', groupColors[i])
            .attr('stroke-width', thick ? 3.5 : 1)
            .attr('stroke-opacity', thick ? 1 : 0.5);
        lg.append('text')
            .attr('x', left + 45).attr('y', cy + 5)
            .style('font-size', labelSize).attr('fill', textColor)
            .text(name);
    });
    if (withBand) {
        const cy = top + 12 + rows.length * rowH;
        lg.append('rect')
            .attr('x', left + 6).attr('y', cy - 5)
            .attr('width', 29).attr('height', 10)
            .attr('fill', '#d6d6d6');
        const t = lg.append('text')
            .attr('x', left + 45).attr('y', cy + 5)
            .style('font-size', labelSize).attr('fill', textColor);
        t.append('tspan').style('font-style', 'italic').text('σ');
        t.append('tspan').text(' of Macro (20)');
    }
};

drawLegend(798, 199, groupNames, false, false);
drawLegend(798, 546, groupNames, true, true);
</script>
</body>
</html>
